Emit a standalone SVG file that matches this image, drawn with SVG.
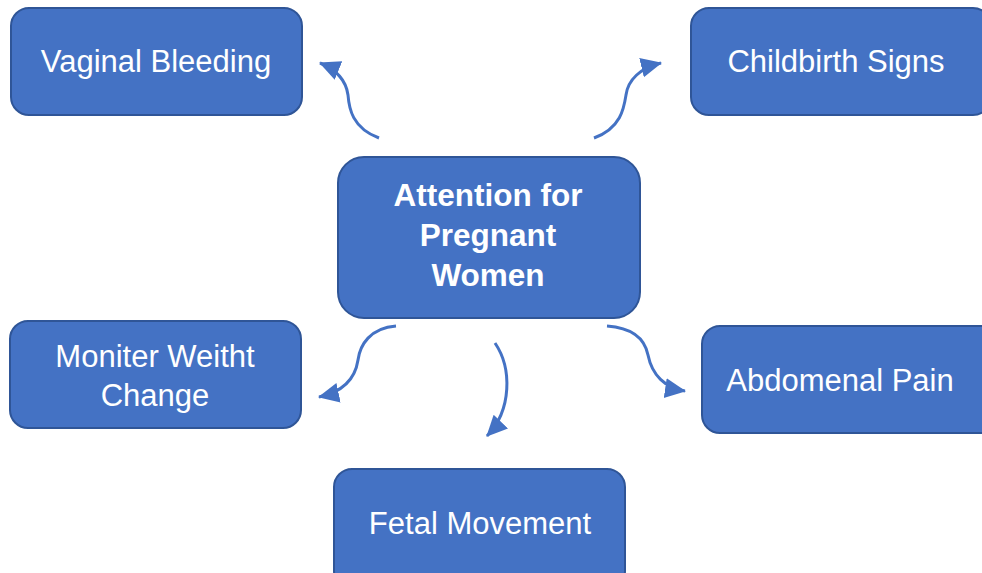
<svg xmlns="http://www.w3.org/2000/svg" width="982" height="573" viewBox="0 0 982 573">
<defs>
<marker id="ah" markerUnits="userSpaceOnUse" markerWidth="24" markerHeight="22" refX="20" refY="10" orient="auto">
<path d="M0,0 L21,10 L0,20 z" fill="#4472C4"/>
</marker>
<style>
.box{fill:#4472C4;stroke:#2F5597;stroke-width:2}
.t{font-family:"Liberation Sans",Arial,sans-serif;fill:#fff;font-size:31px;text-anchor:middle}
.b{font-weight:bold;font-size:31.5px}
.c{fill:none;stroke:#4472C4;stroke-width:3;marker-end:url(#ah)}
</style>
</defs>
<rect width="982" height="573" fill="#fff"/>
<g id="connectors">
<path class="c" d="M379,138 C352,128 349,108 348,95 C346,80 337,70 320,63"/>
<path class="c" d="M594,138 C621,128 624,108 626,95 C628,80 640,68 661,63"/>
<path class="c" d="M396,326 C370,328 360,345 358,360 C355,380 342,392 319,397"/>
<path class="c" d="M495,343 C512,368 512,410 487,436"/>
<path class="c" d="M607,326 C635,328 645,340 648,355 C652,375 665,388 685,391"/>
</g>
<g id="center">
<rect class="box" x="338" y="157" width="302" height="161" rx="26"/>
<text class="t b" x="488" y="206">Attention for</text>
<text class="t b" x="488" y="246">Pregnant</text>
<text class="t b" x="488" y="286">Women</text>
</g>
<g id="vaginal">
<rect class="box" x="11" y="8" width="291" height="107" rx="18"/>
<text class="t" x="156" y="72">Vaginal Bleeding</text>
</g>
<g id="childbirth">
<rect class="box" x="691" y="8" width="300" height="107" rx="18"/>
<text class="t" x="836" y="72">Childbirth Signs</text>
</g>
<g id="weight">
<rect class="box" x="10" y="321" width="291" height="107" rx="18"/>
<text class="t" x="155" y="367">Moniter Weitht</text>
<text class="t" x="155" y="406">Change</text>
</g>
<g id="abdominal">
<rect class="box" x="702" y="326" width="300" height="107" rx="18"/>
<text class="t" x="840" y="391">Abdomenal Pain</text>
</g>
<g id="fetal">
<rect class="box" x="334" y="469" width="291" height="120" rx="18"/>
<text class="t" x="480" y="534">Fetal Movement</text>
</g>
</svg>
